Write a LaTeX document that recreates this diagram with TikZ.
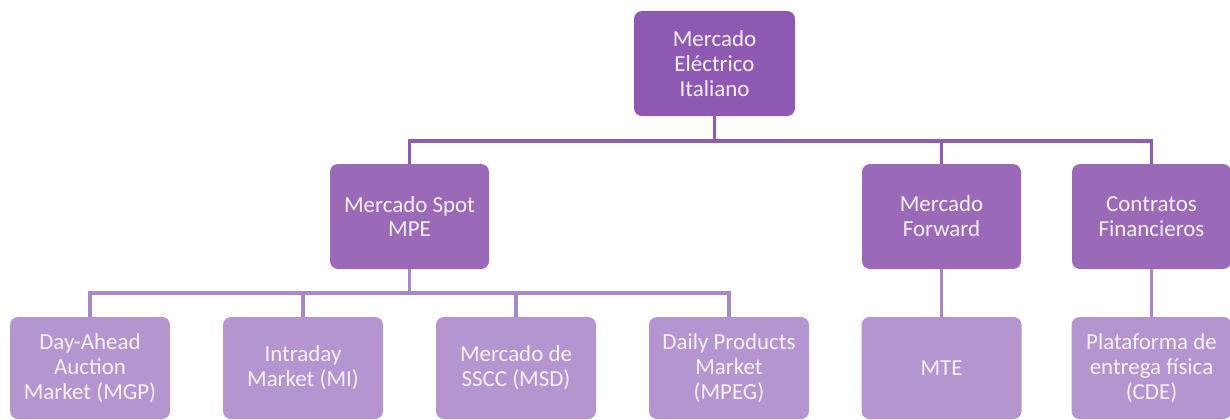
\documentclass[tikz,border=0pt]{standalone}
\usepackage{fontspec}
\setmainfont{Carlito}
\definecolor{topfill}{HTML}{8E59B3}
\definecolor{midfill}{HTML}{9A6AB9}
\definecolor{lowfill}{HTML}{B495CF}
\definecolor{topline}{HTML}{8E5CB0}
\definecolor{lowline}{HTML}{A889C8}
\definecolor{labeltext}{HTML}{F6F0FA}
\begin{document}
\begin{tikzpicture}[x=0.75pt,y=-0.75pt,
  box/.style={rounded corners=6pt, inner sep=0pt, text=labeltext, align=center,
    font=\fontsize{17.2pt}{18.6pt}\selectfont},
  topbox/.style={box, fill=topfill, minimum width=120.75pt, minimum height=78.75pt},
  midbox/.style={box, fill=midfill, minimum width=119.25pt, minimum height=78.75pt},
  lowbox/.style={box, fill=lowfill, minimum width=120pt, minimum height=76.5pt},
  link/.style={line width=2.6pt, topline},
  lowlink/.style={line width=2.6pt, lowline}]
\useasboundingbox (0,0) rectangle (1230,419);
% levels
\node[topbox] (root) at (714.5,63.5) {Mercado\\Eléctrico\\Italiano};
\node[midbox] (spot) at (409.5,216.5) {Mercado Spot\\MPE};
\node[midbox] (fwd) at (941.5,216.5) {Mercado\\Forward};
\node[midbox] (fin) at (1151.5,216.5) {Contratos\\Financieros};
\node[lowbox] (mgp) at (90,368) {Day-Ahead\\Auction\\Market (MGP)};
\node[lowbox] (mi) at (303,368) {Intraday\\Market (MI)};
\node[lowbox] (msd) at (516,368) {Mercado de\\SSCC (MSD)};
\node[lowbox] (mpeg) at (729,368) {Daily Products\\Market\\(MPEG)};
\node[lowbox] (mte) at (941.5,368) {MTE};
\node[lowbox] (cde) at (1151.5,368) {Plataforma de\\entrega física\\(CDE)};
% upper connectors
\coordinate (bus1) at (714.5,141);
\draw[link] (root.south) -- (bus1);
\draw[link] (spot.north) |- (bus1) -| (fin.north);
\draw[link] (fwd.north) -- (fwd.north |- bus1);
% lower connectors
\coordinate (bus2) at (409.5,293);
\draw[lowlink] (spot.south) -- (bus2);
\draw[lowlink] (mgp.north) |- (bus2) -| (mpeg.north);
\draw[lowlink] (mi.north) -- (mi.north |- bus2);
\draw[lowlink] (msd.north) -- (msd.north |- bus2);
\draw[lowlink] (fwd.south) -- (mte.north);
\draw[lowlink] (fin.south) -- (cde.north);
\end{tikzpicture}
\end{document}
